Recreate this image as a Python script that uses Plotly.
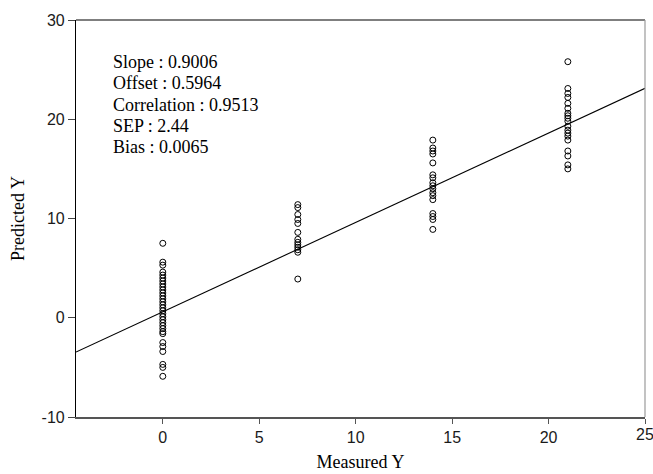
import plotly.graph_objects as go

# Measured reference levels and the predicted values found at each level
measured_levels = [0, 7, 14, 21]
pred_at_0 = [7.5, 5.6, 5.3, 4.6, 4.3, 4.0, 3.7, 3.4, 3.1, 2.8, 2.5, 2.2, 1.9, 1.6,
             1.3, 1.0, 0.7, 0.4, 0.1, -0.2, -0.5, -0.8, -1.1, -1.4, -1.6,
             -2.5, -2.9, -3.4, -4.7, -5.0, -5.9]
pred_at_7 = [11.4, 11.1, 10.4, 9.9, 9.5, 8.6, 7.9, 7.6, 7.35, 7.1, 6.85, 6.6, 3.9]
pred_at_14 = [17.9, 17.1, 16.8, 16.5, 15.6, 14.4, 14.1, 13.6, 13.3, 13.0, 12.6,
              12.3, 11.9, 10.5, 10.2, 9.9, 8.9]
pred_at_21 = [25.8, 23.1, 22.6, 22.2, 21.6, 21.1, 20.6, 20.35, 20.1, 19.8, 19.3,
              18.9, 18.6, 18.3, 17.9, 16.8, 16.3, 15.4, 15.0]

# Fit statistics shown in the corner box
slope = 0.9006
offset = 0.5964
correlation = 0.9513
sep = 2.44
bias = 0.0065

x_range = [-4.5, 25]
y_range = [-10, 30]
x_ticks = [0, 5, 10, 15, 20, 25]
x_tick_labels = ["0", "5", "10", "15", "20", "25"]
y_ticks = [-10, 0, 10, 20, 30]
y_tick_labels = ["-10", "0", "10", "20", "30"]

groups = [pred_at_0, pred_at_7, pred_at_14, pred_at_21]
xs, ys = [], []
for lvl, vals in zip(measured_levels, groups):
    xs += [lvl] * len(vals)
    ys += vals

fig = go.Figure()
fig.add_trace(go.Scatter(
    x=xs, y=ys, mode="markers",
    marker=dict(symbol="circle-open", size=6, color="black", line=dict(width=1)),
    showlegend=False, hoverinfo="x+y",
))
fig.add_trace(go.Scatter(
    x=x_range, y=[slope * v + offset for v in x_range], mode="lines",
    line=dict(color="black", width=1.1), showlegend=False, hoverinfo="skip",
))

serif = "Liberation Serif, Times New Roman, serif"
sans = "Liberation Sans, Arial, sans-serif"
tick_font = dict(family=sans, size=16, color="#1a1a1a")

stats = [
    f"Slope : {slope:.4f}",
    f"Offset : {offset:.4f}",
    f"Correlation : {correlation:.4f}",
    f"SEP : {sep:.2f}",
    f"Bias : {bias:.4f}",
]
for i, txt in enumerate(stats):
    fig.add_annotation(
        x=0.062, y=0.895 - i * 0.054, xref="paper", yref="paper",
        xanchor="left", yanchor="middle", showarrow=False,
        text=txt, font=dict(family=serif, size=18, color="black"),
    )

# the last x tick label sits on the right frame edge; plotly drops it
# because it overhangs the plot area, so draw it as an annotation
fig.add_annotation(
    x=x_ticks[-1], y=0, xref="x", yref="paper", yanchor="top", xanchor="center",
    yshift=-7, showarrow=False, text=x_tick_labels[-1], font=tick_font,
)

# top and right frame lines
fig.add_shape(type="line", xref="paper", yref="paper", x0=0, x1=1, y0=1, y1=1,
              line=dict(color="black", width=1.2))
fig.add_shape(type="line", xref="paper", yref="paper", x0=1, x1=1, y0=0, y1=1,
              line=dict(color="#9a9a9a", width=1.2))

fig.update_layout(
    width=653, height=474,
    margin=dict(l=76, r=8, t=20, b=57, autoexpand=False),
    plot_bgcolor="white", paper_bgcolor="white",
    xaxis=dict(
        range=x_range, tickvals=x_ticks, ticktext=x_tick_labels,
        showgrid=False, zeroline=False, automargin=False,
        showline=True, linecolor="#555555", linewidth=1.5,
        ticks="outside", ticklen=5, tickcolor="#555555", tickwidth=1,
        tickfont=tick_font,
        title=dict(text="Measured Y", font=dict(family=serif, size=18, color="black"),
                   standoff=10),
    ),
    yaxis=dict(
        range=y_range, tickvals=y_ticks, ticktext=y_tick_labels,
        showgrid=False, zeroline=False, automargin=False,
        showline=True, linecolor="black", linewidth=1.2,
        ticks="outside", ticklen=7, tickcolor="#444444", tickwidth=1,
        tickfont=tick_font,
        title=dict(text="Predicted Y", font=dict(family=serif, size=18, color="black"),
                   standoff=12),
    ),
)

fig.write_html("out.html")
